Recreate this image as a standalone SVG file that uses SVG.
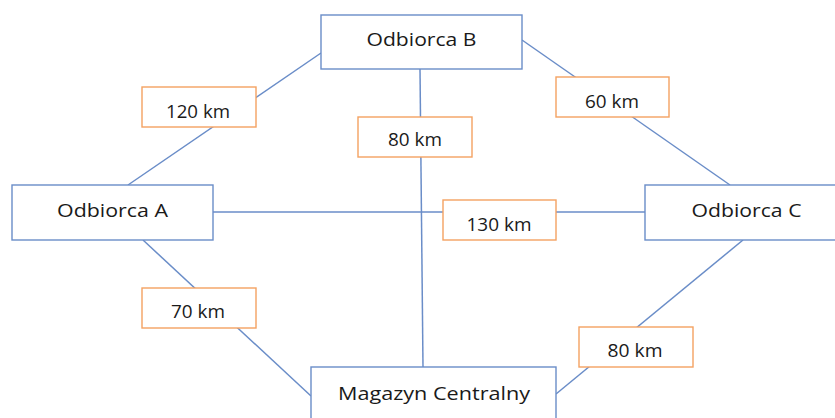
<svg xmlns="http://www.w3.org/2000/svg" width="835" height="418" viewBox="0 0 835 418">
<style>
.edge{stroke:#6A8DC8;stroke-width:1.5;fill:none}
.node rect{fill:#fff;stroke:#6A8DC8;stroke-width:1.4}
.lbl rect{fill:#fff;stroke:#F4A261;stroke-width:1.4}
text{font-family:"Open Sans","Liberation Sans",sans-serif;font-size:19px;fill:#1a1a1a;text-anchor:middle}
</style>
<rect width="835" height="418" fill="#fff"/>
<g id="connectors">
<line class="edge" x1="321" y1="53" x2="128" y2="185"/>
<line class="edge" x1="522" y1="40" x2="730" y2="185"/>
<line class="edge" x1="213" y1="212" x2="645" y2="212"/>
<line class="edge" x1="420" y1="69" x2="423" y2="367"/>
<line class="edge" x1="143" y1="240" x2="311" y2="396"/>
<line class="edge" x1="743" y1="240" x2="556" y2="394"/>
</g>
<g id="nodeB" class="node"><rect x="321" y="15" width="201" height="54"/><text x="421.5" y="46" textLength="110" lengthAdjust="spacingAndGlyphs">Odbiorca B</text></g>
<g id="nodeA" class="node"><rect x="12" y="185" width="201" height="55"/><text x="112.5" y="217" textLength="111" lengthAdjust="spacingAndGlyphs">Odbiorca A</text></g>
<g id="nodeC" class="node"><rect x="645" y="185" width="203" height="55"/><text x="746.5" y="217" textLength="110" lengthAdjust="spacingAndGlyphs">Odbiorca C</text></g>
<g id="nodeM" class="node"><rect x="311" y="367" width="245" height="60"/><text x="434" y="400" textLength="192" lengthAdjust="spacingAndGlyphs">Magazyn Centralny</text></g>
<g id="labels">
<g id="lblAB" class="lbl"><rect x="142" y="87" width="114" height="40"/><text x="198" y="118" textLength="64" lengthAdjust="spacingAndGlyphs">120 km</text></g>
<g id="lblBC" class="lbl"><rect x="556" y="77" width="113" height="40"/><text x="612" y="108" textLength="54" lengthAdjust="spacingAndGlyphs">60 km</text></g>
<g id="lblBM" class="lbl"><rect x="358" y="117" width="114" height="40"/><text x="415" y="146" textLength="54" lengthAdjust="spacingAndGlyphs">80 km</text></g>
<g id="lblAC" class="lbl"><rect x="443" y="200" width="113" height="40"/><text x="499" y="231" textLength="65" lengthAdjust="spacingAndGlyphs">130 km</text></g>
<g id="lblAM" class="lbl"><rect x="142" y="288" width="114" height="40"/><text x="198" y="318" textLength="54" lengthAdjust="spacingAndGlyphs">70 km</text></g>
<g id="lblCM" class="lbl"><rect x="579" y="327" width="114" height="40"/><text x="635" y="357" textLength="55" lengthAdjust="spacingAndGlyphs">80 km</text></g>
</g>
</svg>
